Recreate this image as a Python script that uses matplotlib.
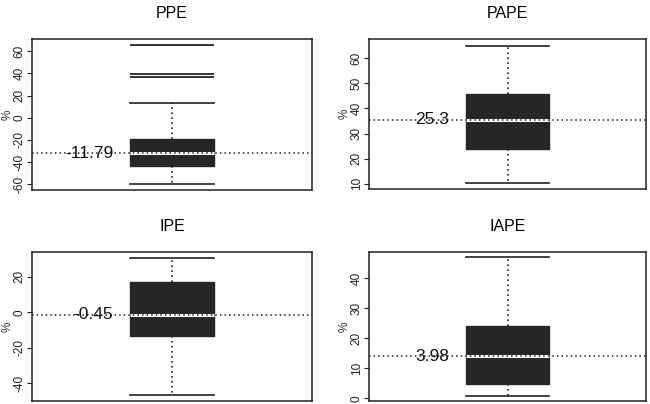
import matplotlib
matplotlib.use("Agg")
import matplotlib.pyplot as plt

plt.rcParams['font.family'] = ['Liberation Sans', 'DejaVu Sans']

# box statistics (percent)
titles = ["PPE", "PAPE", "IPE", "IAPE"]
whis_lo = [-60.0, 10.1, -46.4, 0.9]
q1 = [-43.6, 23.8, -13.4, 4.65]
medians = [-31.8, 35.5, -1.4, 14.0]
q3 = [-19.4, 45.9, 16.8, 24.0]
whis_hi = [13.0, 65.0, 30.7, 46.9]
outliers = [[37.0, 39.4, 65.5], [], [], []]
labels = ["-11.79", "25.3", "-0.45", "3.98"]
ylims = [(-65.0, 70.9), (7.9, 67.7), (-50.0, 33.9), (-0.9, 48.7)]
yticks = [[-60, -40, -20, 0, 20, 40, 60],
          [10, 20, 30, 40, 50, 60],
          [-40, -20, 0, 20],
          [0, 10, 20, 30, 40]]

W, H = 650, 404
# axes rectangles in pixels: left, right, top, bottom
boxes_px = [(32, 312, 39, 190), (369, 646, 39, 189),
            (32, 312, 252, 401), (369, 646, 252, 401)]

dots = (0, (1, 2))
fig = plt.figure(figsize=(6.5, 4.04), dpi=100)

for i in range(4):
    l, r, t, b = boxes_px[i]
    ax = fig.add_axes([l / W, 1 - b / H, (r - l) / W, (b - t) / H])
    stats = [dict(med=medians[i], q1=q1[i], q3=q3[i],
                  whislo=whis_lo[i], whishi=whis_hi[i],
                  fliers=outliers[i], label="")]
    ax.bxp(stats, positions=[1], widths=0.3, capwidths=0.3, patch_artist=True,
           boxprops=dict(facecolor="#262626", edgecolor="#262626", linewidth=1),
           medianprops=dict(color="white", linewidth=2.2),
           whiskerprops=dict(color="#222222", linestyle=dots, linewidth=1.2),
           capprops=dict(color="#222222", linewidth=1.2),
           flierprops=dict(marker="_", markersize=61, markeredgewidth=1.3,
                           markeredgecolor="#222222"))
    ax.axhline(medians[i], color="#222222", linestyle=dots, linewidth=1.1, zorder=5)
    ax.text(0.79, medians[i], labels[i], ha="right", va="center", fontsize=12.5,
            color="#111111", zorder=6)
    ax.set_xlim(0.5, 1.5)
    ax.set_ylim(*ylims[i])
    ax.set_xticks([])
    ax.set_yticks(yticks[i])
    ax.set_yticklabels([str(v) for v in yticks[i]], rotation=90, va="center", fontsize=8.5)
    ax.tick_params(axis="y", length=3.5, width=0.8, pad=1, colors="#222222")
    ax.set_ylabel("%", fontsize=8.5, labelpad=0, color="#333333")
    for s in ax.spines.values():
        s.set_linewidth(1.1)
        s.set_color("#222222")
    ax.set_title(titles[i], fontsize=11.5, pad=15)

fig.savefig("out.png", dpi=100)
